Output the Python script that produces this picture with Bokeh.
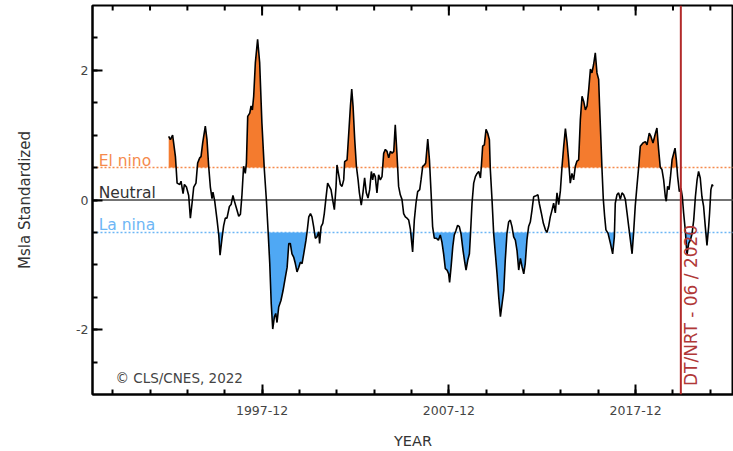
import numpy as np
from bokeh.plotting import figure
from bokeh.models import Span, Label, FixedTicker, Range1d
from bokeh.embed import file_html
from bokeh.resources import INLINE

# ---- data (decimal year, standardized MSLA) ----
dates = [
    1993.00, 1993.09, 1993.21, 1993.36, 1993.45, 1993.59, 1993.66, 1993.77, 1993.84, 1993.95,
    1994.07, 1994.16, 1994.25, 1994.34, 1994.46, 1994.55, 1994.66, 1994.73, 1994.82, 1994.96,
    1995.05, 1995.14, 1995.23, 1995.32, 1995.37, 1995.46, 1995.59, 1995.68, 1995.75, 1995.85,
    1995.94, 1996.03, 1996.12, 1996.25, 1996.34, 1996.44, 1996.51, 1996.62, 1996.75, 1996.84,
    1996.92, 1997.01, 1997.10, 1997.16, 1997.23, 1997.34, 1997.41, 1997.48, 1997.55, 1997.64,
    1997.76, 1997.87, 1997.99, 1998.12, 1998.23, 1998.32, 1998.41, 1998.49, 1998.57, 1998.66,
    1998.73, 1998.80, 1998.89, 1999.01, 1999.12, 1999.24,
    1999.34, 1999.43, 1999.51, 1999.60, 1999.69, 1999.78, 1999.87, 1999.96, 2000.05, 2000.14,
    2000.23, 2000.35, 2000.41, 2000.50, 2000.59, 2000.67, 2000.76, 2000.85, 2000.94, 2001.03,
    2001.08, 2001.16, 2001.25, 2001.33, 2001.42, 2001.51, 2001.60, 2001.69, 2001.78, 2001.87,
    2001.96, 2002.01, 2002.10, 2002.19, 2002.28, 2002.37, 2002.42, 2002.55, 2002.64, 2002.73,
    2002.80, 2002.87, 2002.96, 2003.05, 2003.14, 2003.21, 2003.31, 2003.40, 2003.49, 2003.58,
    2003.67, 2003.76, 2003.85, 2003.92, 2003.98, 2004.06, 2004.15, 2004.24, 2004.33, 2004.42,
    2004.51, 2004.60, 2004.69, 2004.78, 2004.87, 2004.96, 2005.05, 2005.13, 2005.22, 2005.31,
    2005.40, 2005.49, 2005.58, 2005.67, 2005.76, 2005.85,
    2005.94, 2006.06, 2006.15, 2006.24, 2006.33, 2006.44, 2006.51, 2006.60, 2006.69, 2006.76,
    2006.87, 2006.96, 2007.05, 2007.13, 2007.22, 2007.33, 2007.44, 2007.54, 2007.63, 2007.72,
    2007.81, 2007.90, 2007.99, 2008.04, 2008.12, 2008.21, 2008.29, 2008.38, 2008.47, 2008.56,
    2008.65, 2008.76, 2008.85, 2008.92, 2009.01, 2009.10, 2009.15, 2009.24, 2009.33, 2009.42,
    2009.51, 2009.60, 2009.69, 2009.74, 2009.81, 2009.90, 2009.99, 2010.08, 2010.17, 2010.22,
    2010.31, 2010.40, 2010.49, 2010.58, 2010.67, 2010.76, 2010.85, 2010.94, 2011.02, 2011.11,
    2011.20, 2011.29, 2011.38, 2011.47, 2011.56, 2011.65, 2011.74, 2011.83, 2011.92, 2012.01,
    2012.09, 2012.18, 2012.27, 2012.36, 2012.45, 2012.54,
    2012.63, 2012.77, 2012.84, 2012.95, 2013.06, 2013.17, 2013.25, 2013.34, 2013.43, 2013.52,
    2013.61, 2013.70, 2013.79, 2013.88, 2013.97, 2014.06, 2014.15, 2014.24, 2014.33, 2014.41,
    2014.50, 2014.59, 2014.68, 2014.77, 2014.86, 2014.95, 2015.04, 2015.13, 2015.22, 2015.31,
    2015.40, 2015.49, 2015.58, 2015.66, 2015.75, 2015.84, 2015.93, 2016.02, 2016.07, 2016.14,
    2016.20, 2016.27, 2016.34, 2016.41, 2016.52, 2016.65, 2016.77, 2016.86, 2016.91, 2017.00,
    2017.09, 2017.18, 2017.27, 2017.36, 2017.45, 2017.54, 2017.63, 2017.72, 2017.81, 2017.89,
    2017.98, 2018.07, 2018.16, 2018.25, 2018.39, 2018.52, 2018.61, 2018.73, 2018.82, 2018.93,
    2019.06, 2019.14, 2019.23, 2019.32, 2019.41, 2019.50, 2019.59, 2019.64, 2019.71, 2019.79,
    2019.86, 2019.95, 2020.04, 2020.11, 2020.18, 2020.25, 2020.34, 2020.43, 2020.50, 2020.57,
    2020.66, 2020.75, 2020.84, 2020.93, 2021.02, 2021.11, 2021.20, 2021.29, 2021.37, 2021.46,
    2021.55, 2021.64, 2021.73, 2021.82, 2021.91, 2021.96, 2022.03, 2022.10, 2022.14,
]
msla = [
    0.98, 0.93, 1.00, 0.67, 0.26, 0.24, 0.29, 0.10, 0.24, 0.20,
    0.07, -0.28, -0.05, 0.20, 0.26, 0.57, 0.65, 0.67, 0.88, 1.14,
    0.93, 0.52, 0.20, 0.02, 0.12, -0.01, -0.31, -0.54, -0.85, -0.60,
    -0.40, -0.28, -0.28, -0.10, -0.07, 0.07, -0.01, -0.12, -0.25, -0.22,
    0.07, 0.52, 0.41, 0.57, 1.29, 1.34, 1.45, 1.39, 1.60, 2.12,
    2.48, 2.12, 1.19, 0.47, 0.00, -0.47, -0.98, -1.60, -1.99, -1.80,
    -1.75, -1.89, -1.65, -1.55, -1.40, -1.20,
    -1.04, -0.67, -0.67, -0.83, -0.88, -0.98, -1.11, -1.04, -0.96, -0.98,
    -0.83, -0.62, -0.49, -0.26, -0.21, -0.26, -0.41, -0.59, -0.57, -0.49,
    -0.67, -0.41, -0.36, -0.21, 0.03, 0.26, 0.21, 0.16, 0.00, -0.15,
    0.21, 0.54, 0.39, 0.24, 0.21, 0.31, 0.59, 0.62, 1.03, 1.45,
    1.71, 1.45, 0.93, 0.52, 0.31, 0.11, -0.08, 0.11, 0.34, 0.11,
    0.03, 0.16, 0.44, 0.31, 0.41, 0.36, 0.11, 0.39, 0.31, 0.36,
    0.72, 0.78, 0.75, 0.65, 0.75, 0.72, 0.75, 1.16, 0.72, 0.21,
    0.08, 0.01, -0.21, -0.26, -0.28, -0.31,
    -0.45, -0.80, -0.31, -0.05, 0.13, 0.16, 0.31, 0.52, 0.54, 0.57,
    0.94, 0.62, 0.10, -0.41, -0.59, -0.59, -0.62, -0.54, -0.65, -0.83,
    -1.06, -1.08, -1.14, -1.27, -1.03, -0.72, -0.54, -0.47, -0.39, -0.41,
    -0.52, -0.78, -0.96, -1.08, -0.93, -0.83, -0.57, -0.05, 0.26, 0.36,
    0.41, 0.44, 0.34, 0.52, 0.83, 0.85, 1.09, 1.03, 0.93, 0.47,
    0.01, -0.52, -0.83, -1.14, -1.50, -1.80, -1.60, -1.40, -0.93, -0.52,
    -0.34, -0.31, -0.41, -0.57, -0.62, -0.78, -1.08, -0.90, -1.03, -1.14,
    -0.98, -0.62, -0.41, -0.34, -0.16, 0.05,
    0.06, 0.08, -0.05, -0.20, -0.36, -0.46, -0.50, -0.41, -0.26, -0.16,
    -0.05, -0.20, 0.11, -0.07, 0.14, 0.52, 0.83, 1.10, 0.88, 0.62,
    0.26, 0.41, 0.31, 0.52, 0.60, 0.62, 1.24, 1.60, 1.52, 1.39,
    1.45, 1.71, 2.02, 1.96, 2.09, 2.27, 1.96, 1.86, 1.45, 0.93,
    0.47, 0.01, -0.25, -0.46, -0.51, -0.67, -0.83, -0.57, -0.05, 0.08,
    0.11, 0.01, 0.11, 0.08, 0.01, -0.20, -0.41, -0.62, -0.83, -0.51,
    -0.09, 0.21, 0.50, 0.83, 0.88, 0.90, 0.85, 1.03, 0.98, 0.88,
    1.03, 1.11, 0.78, 0.50, 0.47, 0.31, 0.05, -0.02, 0.21, 0.16,
    0.34, 0.62, 0.72, 0.80, 0.62, 0.36, 0.13, 0.18, 0.05, -0.20,
    -0.47, -0.85, -0.67, -0.62, -0.52, -0.31, 0.05, 0.31, 0.44, 0.34,
    0.05, -0.10, -0.41, -0.70, -0.41, -0.20, 0.16, 0.24, 0.21,
]

el_nino_level = 0.5
la_nina_level = -0.5
dt_nrt_switch = 2020.42  # June 2020

x_major = [1998.0, 2008.0, 2018.0]
x_major_labels = ["1997-12", "2007-12", "2017-12"]
x_minor = [1990.0 + 2 * i for i in range(17)]
y_major = [-2, 0, 2]
y_major_labels = ["-2", "0", "2"]
y_minor = [-2.5, -2.0, -1.5, -1.0, -0.5, 0.0, 0.5, 1.0, 1.5, 2.0, 2.5]
x_lo, x_hi = 1988.92, 2023.24
y_lo, y_hi = -3.0, 3.0

ORANGE = "#F47B2E"
BLUE = "#4FA8F4"
FONT = "DejaVu Sans"

FRAME_H_PX = 389   # frame height in pixels (451 - 5 - 57)
FRAME_W_PX = 641   # frame width in pixels (733 - 92)
MAJOR_TICK_PX = 10
MINOR_TICK_PX = 5
TICK_W_PX = 2


def with_crossings(x, y, levels):
    xs, ys = [x[0]], [y[0]]
    for i in range(1, len(x)):
        x0, y0, x1, y1 = x[i - 1], y[i - 1], x[i], y[i]
        cr = []
        for L in levels:
            if (y0 - L) * (y1 - L) < 0:
                t = (L - y0) / (y1 - y0)
                cr.append((x0 + t * (x1 - x0), L))
        cr.sort()
        for cx, cy in cr:
            xs.append(cx)
            ys.append(cy)
        xs.append(x1)
        ys.append(y1)
    return np.array(xs), np.array(ys)


xd, yd = with_crossings(dates, msla, [el_nino_level, la_nina_level])

p = figure(width=733, height=451,
           x_range=Range1d(x_lo, x_hi), y_range=Range1d(y_lo, y_hi),
           output_backend="svg", toolbar_location=None,
           min_border_left=92, min_border_right=0, min_border_top=5,
           min_border_bottom=57)
p.outline_line_color = "black"
p.outline_line_width = 2
p.xgrid.visible = False
p.ygrid.visible = False
p.background_fill_color = "white"
p.border_fill_color = "white"

# fills
p.varea(x=xd, y1=el_nino_level, y2=np.maximum(yd, el_nino_level), fill_color=ORANGE)
p.varea(x=xd, y1=np.minimum(yd, la_nina_level), y2=la_nina_level, fill_color=BLUE)

# reference lines
p.add_layout(Span(location=0, dimension="width", line_color="#444444", line_width=1.5, level="underlay"))
p.add_layout(Span(location=el_nino_level, dimension="width", line_color="#F58A4C",
                  line_width=1.5, line_dash="2 2", level="underlay"))
p.add_layout(Span(location=la_nina_level, dimension="width", line_color="#6DB6F5",
                  line_width=1.5, line_dash="2 2", level="underlay"))

# series
p.line(dates, msla, line_color="black", line_width=1.6)

# top-edge tick marks, drawn as thin bars hanging from the top of the frame
y_per_px = (y_hi - y_lo) / FRAME_H_PX
x_per_px = (x_hi - x_lo) / FRAME_W_PX
top_major = y_hi - 0.5 * y_per_px
p.vbar(x=x_minor, width=TICK_W_PX * x_per_px, top=top_major,
       bottom=y_hi - MINOR_TICK_PX * y_per_px, fill_color="black", line_color=None)
p.vbar(x=x_major, width=TICK_W_PX * x_per_px, top=top_major,
       bottom=y_hi - MAJOR_TICK_PX * y_per_px, fill_color="black", line_color=None)

# DT/NRT marker
p.add_layout(Span(location=dt_nrt_switch, dimension="height", line_color="#B22A2A", line_width=2))
p.add_layout(Label(x=dt_nrt_switch, y=-2.87, x_offset=10, angle=90, angle_units="deg",
                   text="DT/NRT - 06 / 2020", text_align="left", text_baseline="middle",
                   text_color="#B03838", text_font=FONT, text_font_size="17px"))

# labels
p.add_layout(Label(x=1989.25, y=0.6, text="El nino", text_color="#F58A4C",
                   text_font=FONT, text_font_size="15.5px", text_baseline="alphabetic"))
p.add_layout(Label(x=1989.25, y=0.11, text="Neutral", text_color="#333333",
                   text_font=FONT, text_font_size="15.5px", text_baseline="alphabetic"))
p.add_layout(Label(x=1989.25, y=-0.39, text="La nina", text_color="#6DB6F5",
                   text_font=FONT, text_font_size="15.5px", text_baseline="alphabetic"))
p.add_layout(Label(x=1990.15, y=-2.74, text="\u00a9 CLS/CNES, 2022", text_color="#444444",
                   text_font=FONT, text_font_size="13.5px", text_baseline="alphabetic"))


def style_axis(ax):
    ax.axis_line_width = 2
    ax.axis_line_color = "black"
    ax.major_tick_in = MAJOR_TICK_PX
    ax.major_tick_out = 0
    ax.minor_tick_in = MINOR_TICK_PX
    ax.minor_tick_out = 0
    ax.major_tick_line_width = 2
    ax.minor_tick_line_width = 2
    ax.major_tick_line_color = "black"
    ax.minor_tick_line_color = "black"
    ax.major_label_text_font = FONT
    ax.major_label_text_font_size = "12.5px"
    ax.major_label_text_color = "#444444"
    ax.axis_label_text_font = FONT
    ax.axis_label_text_font_size = "14.5px"
    ax.axis_label_text_font_style = "normal"
    ax.axis_label_text_color = "#333333"


xt = FixedTicker(ticks=x_major, minor_ticks=x_minor)
yt = FixedTicker(ticks=y_major, minor_ticks=y_minor)

xa = p.xaxis[0]
xa.ticker = xt
xa.major_label_overrides = {v: s for v, s in zip(x_major, x_major_labels)}
style_axis(xa)
xa.axis_label = "YEAR"
xa.major_label_standoff = 11
xa.axis_label_standoff = 15

ya = p.yaxis[0]
ya.ticker = yt
ya.major_label_overrides = {v: s for v, s in zip(y_major, y_major_labels)}
style_axis(ya)
ya.axis_label = "Msla Standardized"
ya.axis_label_text_font_size = "15px"
ya.major_label_standoff = 4
ya.axis_label_standoff = 39

open("out.html", "w").write(file_html(p, INLINE))
